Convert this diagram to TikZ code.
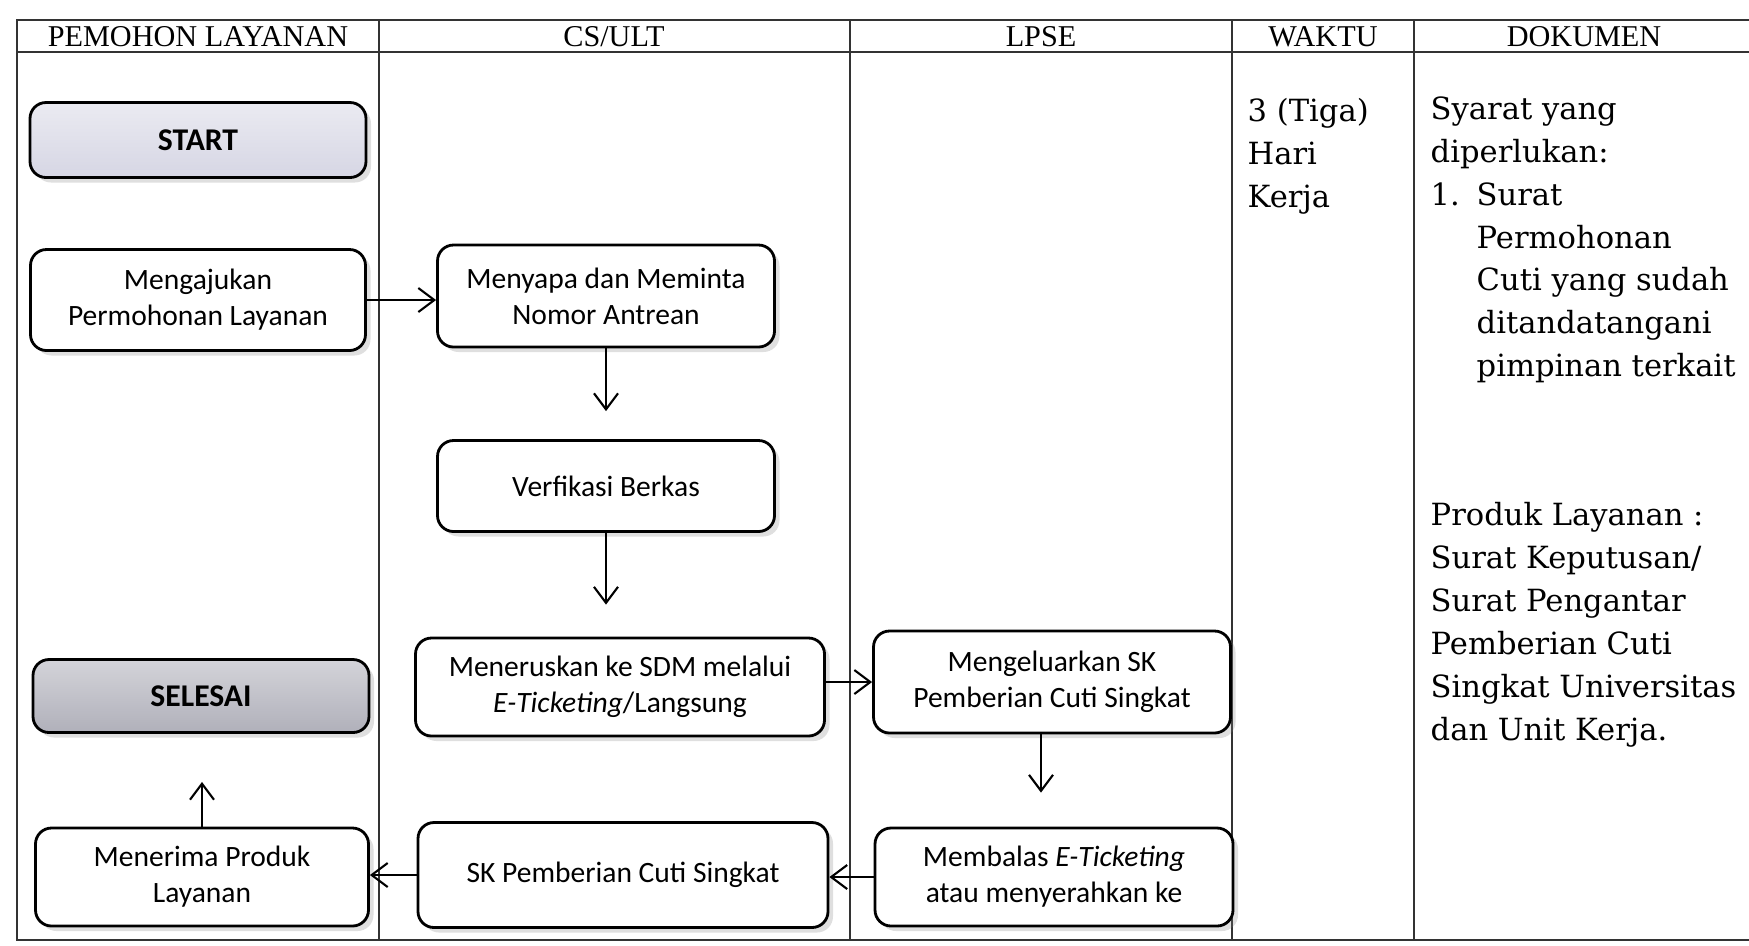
\documentclass[tikz,border=0pt]{standalone}
\usepackage{fontspec}
\newfontfamily\boxfont{Carlito}
\newfontfamily\hdrfont{Liberation Serif}
\newfontfamily\docfont{DejaVu Serif}
\usepackage{xcolor}
\definecolor{startfill}{RGB}{214,214,228}
\definecolor{endfill}{RGB}{176,176,186}
\usepackage{tikz}
\usetikzlibrary{positioning,arrows.meta,calc,shadows}

\begin{document}
\begin{tikzpicture}[x=0.1mm,y=-0.1mm,
      proc/.style={rectangle,draw,line width=0.8pt,rounded corners=1.6mm,fill=white,
                   inner sep=0pt,align=center,font=\boxfont\fontsize{8.4}{10.2}\selectfont,
                   drop shadow={opacity=0.25,shadow xshift=0.5mm,shadow yshift=-0.5mm}},
      term/.style={proc,font=\boxfont\bfseries\fontsize{9}{11}\selectfont},
      hdr/.style={font=\hdrfont\fontsize{8.6}{10}\selectfont,inner sep=0pt},
      doc/.style={anchor=north west,align=left,inner sep=0pt,font=\docfont\fontsize{8.7}{12.2}\selectfont},
      grid/.style={line width=0.6pt,draw=black!80},
      flow/.style={-{Straight Barb[length=1.6mm,width=2.4mm]},line width=0.6pt}]
    \useasboundingbox (0,0) rectangle (1749,945);
    \draw[grid] (1749,20) -- (17,20) -- (17,940) -- (1749,940);
    \draw[grid] (17,52) -- (1749,52);
    \foreach \cx in {379,850,1232,1414} \draw[grid] (\cx,20) -- (\cx,940);
    \node[hdr] (hpem) at (198,37) {PEMOHON LAYANAN};
    \node[hdr] (hcs) at (614,37) {CS/ULT};
    \node[hdr] (hlpse) at (1041,37) {LPSE};
    \node[hdr] (hwaktu) at (1323,37) {WAKTU};
    \node[hdr] (hdok) at (1584,37) {DOKUMEN};
    \node[term,top color=startfill!50,bottom color=startfill,minimum width=33.6mm,minimum height=7.5mm] (start) at (198,140) {START};
    \node[proc,minimum width=33.5mm,minimum height=10.1mm] (ajukan) at (198,300) {Mengajukan\\Permohonan Layanan};
    \node[proc,minimum width=33.7mm,minimum height=10.2mm] (sapa) at (606,296) {Menyapa dan Meminta\\Nomor Antrean};
    \node[proc,minimum width=33.7mm,minimum height=9.1mm] (verif) at (606,486) {Verfikasi Berkas};
    \node[proc,minimum width=40.9mm,minimum height=9.8mm] (terus) at (620,687) {Meneruskan ke SDM melalui\\\textit{E-Ticketing}/Langsung};
    \node[term,top color=endfill!55,bottom color=endfill,minimum width=33.6mm,minimum height=7.3mm] (selesai) at (201,696) {SELESAI};
    \node[proc,minimum width=35.7mm,minimum height=10.2mm] (keluar) at (1052,682) {Mengeluarkan SK\\Pemberian Cuti Singkat};
    \node[proc,minimum width=33.3mm,minimum height=9.8mm] (terima) at (202,877) {Menerima Produk\\Layanan};
    \node[proc,minimum width=41mm,minimum height=10.5mm] (skcuti) at (623,875) {SK Pemberian Cuti Singkat};
    \node[proc,minimum width=35.8mm,minimum height=9.8mm] (balas) at (1054,877) {Membalas \textit{E-Ticketing}\\atau menyerahkan ke};
    \node[doc] (waktu) at (1247,98) {3 (Tiga)\\Hari\\Kerja};
    \node[doc] (syarat) at (1430,96) {Syarat yang\\diperlukan:\\\makebox[4.6mm][l]{1.}Surat\\\hspace*{4.6mm}Permohonan\\\hspace*{4.6mm}Cuti yang sudah\\\hspace*{4.6mm}ditandatangani\\\hspace*{4.6mm}pimpinan terkait};
    \node[doc] (produk) at (1430,502) {Produk Layanan :\\Surat Keputusan/\\Surat Pengantar\\Pemberian Cuti\\Singkat Universitas\\dan Unit Kerja.};
    \draw[flow] (ajukan.east) -- (ajukan.east -| sapa.west);
    \draw[flow,shorten >=2.8mm] (sapa) -- (verif);
    \draw[flow,shorten >=3.2mm] (verif.south) -- (verif.south |- terus.north);
    \draw[flow] (terus.east |- keluar.west) -- (keluar.west);
    \draw[flow,shorten >=3.4mm] ([xshift=-1.1mm]keluar.south) -- ([xshift=-1.1mm]keluar.south |- balas.north);
    \draw[flow] (balas.west) -- (balas.west -| skcuti.east);
    \draw[flow] (skcuti.west) -- (skcuti.west -| terima.east);
    \draw[flow,shorten >=4.8mm] (terima) -- (terima |- selesai.south);
  \end{tikzpicture}
\end{document}
